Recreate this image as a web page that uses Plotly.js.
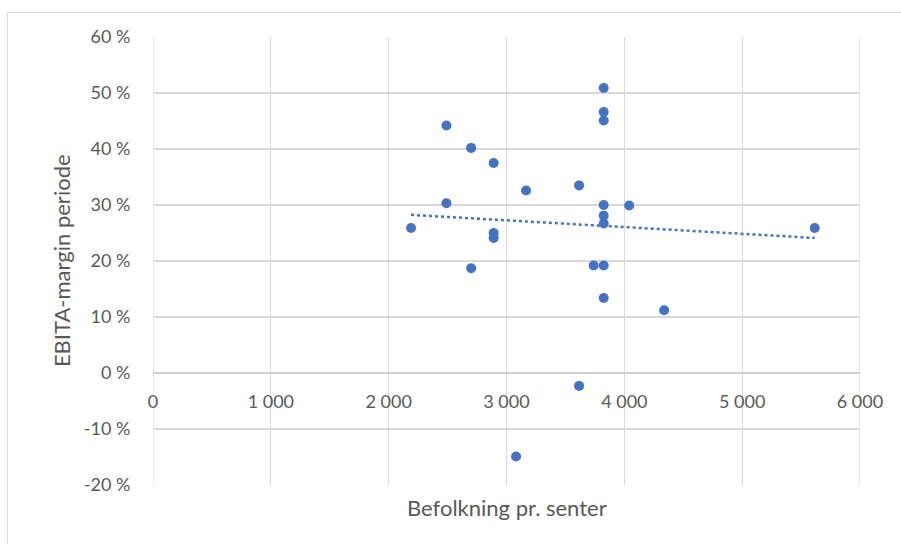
<!DOCTYPE html>
<html>
<head>
<meta charset="utf-8">
<script src="https://cdn.plot.ly/plotly-3.0.1.min.js"></script>
<style>
  html, body { margin: 0; padding: 0; width: 901px; height: 544px; overflow: hidden; background: #fff; }
  #frame { position: absolute; left: 7px; top: 12px; width: 1000px; height: 1000px; border: 1.5px solid #d9d9d9; box-sizing: border-box; }
  #chart { position: absolute; left: 0; top: 0; width: 901px; height: 544px; }
</style>
</head>
<body>
<div id="frame"></div>
<div id="chart"></div>
<script>
// Population served per centre and EBITA margin for the period (%)
const befolkning = [2190, 2490, 2490, 2700, 2700, 2891, 2891, 2891, 3081, 3166, 3616, 3616,
                    3740, 3825, 3825, 3825, 3825, 3825, 3825, 3825, 3825, 4041, 4338, 5616];
const ebitaMargin = [25.9, 44.2, 30.3, 40.2, 18.7, 37.5, 25.0, 24.1, -14.9, 32.6, 33.5, -2.3,
                     19.2, 50.9, 46.6, 45.1, 30.0, 28.1, 26.7, 19.2, 13.4, 29.9, 11.2, 25.9];

const xTickVals = [0, 1000, 2000, 3000, 4000, 5000, 6000];
const xTickText = ['0', '1 000', '2 000', '3 000', '4 000', '5 000', '6 000'];
const yTickVals = [-20, -10, 0, 10, 20, 30, 40, 50, 60];
const yTickText = ['-20 %', '-10 %', '0 %', '10 %', '20 %', '30 %', '40 %', '50 %', '60 %'];

// Least-squares linear trend across the data range
function linearTrend(xs, ys) {
  const n = xs.length;
  const mx = xs.reduce((a, b) => a + b, 0) / n;
  const my = ys.reduce((a, b) => a + b, 0) / n;
  let sxy = 0, sxx = 0;
  for (let i = 0; i < n; i++) {
    sxy += (xs[i] - mx) * (ys[i] - my);
    sxx += (xs[i] - mx) * (xs[i] - mx);
  }
  const slope = sxy / sxx;
  const x0 = Math.min(...xs), x1 = Math.max(...xs);
  return { x: [x0, x1], y: [my + slope * (x0 - mx), my + slope * (x1 - mx)] };
}
const trend = linearTrend(befolkning, ebitaMargin);

const blue = '#4472C4';
const grid = '#d9d9d9';
const tickFont = { family: 'Lato, "Liberation Sans", sans-serif', size: 18, color: '#595959' };
const titleFont = { family: 'Lato, "Liberation Sans", sans-serif', size: 22, color: '#595959' };

const data = [
  {
    x: befolkning, y: ebitaMargin, type: 'scatter', mode: 'markers',
    marker: { color: blue, size: 10 }, hoverinfo: 'x+y', showlegend: false
  },
  {
    x: trend.x, y: trend.y, type: 'scatter', mode: 'lines',
    line: { color: blue, width: 2.5, dash: 'dot' }, hoverinfo: 'skip', showlegend: false
  }
];

const layout = {
  width: 901, height: 544,
  margin: { l: 153, r: 41, t: 37, b: 59 },
  paper_bgcolor: 'rgba(0,0,0,0)', plot_bgcolor: 'rgba(0,0,0,0)',
  xaxis: {
    range: [0, 6000], tickvals: xTickVals, ticktext: xTickText,
    anchor: 'free', position: 0.2505,
    showgrid: true, gridcolor: grid, gridwidth: 1.3,
    zeroline: false, showline: false,
    ticks: 'outside', ticklen: 13, tickcolor: 'rgba(0,0,0,0)',
    tickfont: tickFont, fixedrange: true
  },
  yaxis: {
    range: [-20, 60], tickvals: yTickVals, ticktext: yTickText,
    showgrid: true, gridcolor: grid, gridwidth: 1.3,
    zeroline: true, zerolinecolor: '#cfcfcf', zerolinewidth: 1.5,
    showline: false,
    ticks: 'outside', ticklen: 18, tickcolor: 'rgba(0,0,0,0)',
    tickfont: tickFont, fixedrange: true
  },
  shapes: [
    { type: 'line', xref: 'x', yref: 'paper', x0: 0, x1: 0, y0: 0, y1: 1, line: { color: grid, width: 1.3 }, layer: 'below' },
    { type: 'line', xref: 'x', yref: 'paper', x0: 6000, x1: 6000, y0: 0, y1: 1, line: { color: grid, width: 1.3 }, layer: 'below' }
  ],
  annotations: [
    { text: 'Befolkning pr. senter', xref: 'paper', yref: 'paper', x: 0.5, y: -0.050,
      xanchor: 'center', yanchor: 'middle', showarrow: false, font: titleFont },
    { text: 'EBITA-margin periode', xref: 'paper', yref: 'paper', x: -0.130, y: 0.5,
      xanchor: 'center', yanchor: 'middle', textangle: -90, showarrow: false, font: titleFont }
  ]
};

Plotly.newPlot('chart', data, layout, { displayModeBar: false, staticPlot: true });
</script>
</body>
</html>
